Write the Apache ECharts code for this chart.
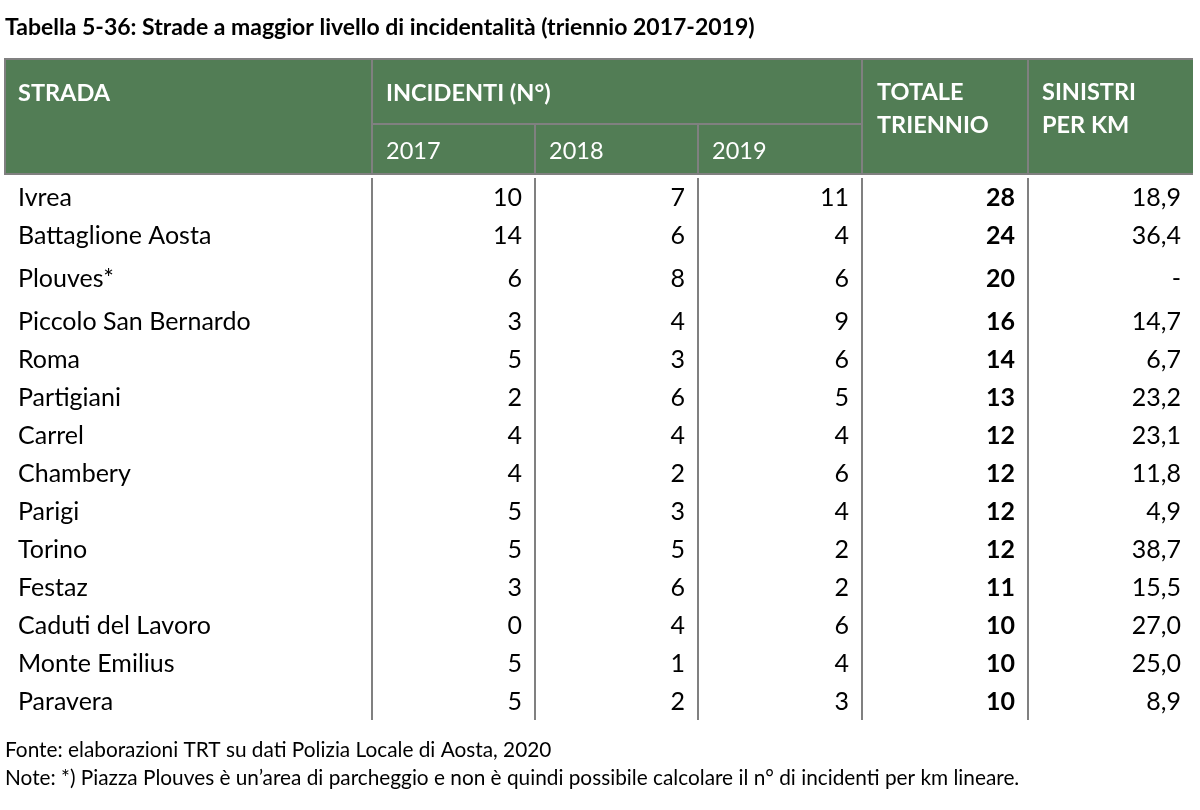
<!DOCTYPE html>
<html><head><meta charset="utf-8">
<script src="https://cdn.jsdelivr.net/npm/echarts@6/dist/echarts.min.js"></script>
<style>html,body{margin:0;padding:0;background:#fff}#c{width:1200px;height:810px}</style>
</head><body><div id="c"></div><script>
// ---- data ----
const titleText = 'Tabella 5-36: Strade a maggior livello di incidentalità (triennio 2017-2019)';
const strade = ['Ivrea','Battaglione Aosta','Plouves*','Piccolo San Bernardo','Roma','Partigiani','Carrel','Chambery','Parigi','Torino','Festaz','Caduti del Lavoro','Monte Emilius','Paravera'];
const inc2017 = [10,14,6,3,5,2,4,4,5,5,3,0,5,5];
const inc2018 = [7,6,8,4,3,6,4,2,3,5,6,4,1,2];
const inc2019 = [11,4,6,9,6,5,4,6,4,2,2,6,4,3];
const totale = [28,24,20,16,14,13,12,12,12,12,11,10,10,10];
const sinistriKm = [18.9,36.4,null,14.7,6.7,23.2,23.1,11.8,4.9,38.7,15.5,27.0,25.0,8.9];
const colStrada = 'STRADA';
const colIncidenti = 'INCIDENTI (N°)';
const anni = ['2017','2018','2019'];
const colTotale = 'TOTALE\nTRIENNIO';
const colSinistri = 'SINISTRI\nPER KM';
const fonteText = 'Fonte: elaborazioni TRT su dati Polizia Locale di Aosta, 2020';
const noteText = 'Note: *) Piazza Plouves è un\u2019area di parcheggio e non è quindi possibile calcolare il n° di incidenti per km lineare.';

// ---- layout ----
const FONT = 'Lato';
const GREEN = '#527d55';
const GREY = '#808080';
const L = 5, R = 1193;
const edges = [0, 367, 530, 693, 857, 1023, 1188]; // column edges in axis units (grid x from L)
const tallRow = 'Plouves*';                          // this row is drawn taller, as in the original
const rowUnits = strade.map(s => s === tallRow ? 48 / 38 : 1);
const rowStart = [];
rowUnits.reduce((acc, u, i) => { rowStart[i] = acc; return acc + u; }, 0);
const totalUnits = rowUnits.reduce((a, b) => a + b, 0);
const fmtKm = v => v == null ? '-' : v.toFixed(1).replace('.', ',');

const chart = echarts.init(document.getElementById('c'), null, {renderer: 'canvas'});

const HF = 23.5, DF = 25, NF = 20.8;
function txt(text, x, y, opts) {
  return {
    type: 'text', silent: true,
    style: Object.assign({
      text: text, x: x, y: y,
      fill: '#fff', font: 'bold ' + HF + 'px ' + FONT,
      align: 'left', textAlign: 'left',
      verticalAlign: 'middle', textVerticalAlign: 'middle'
    }, opts || {})
  };
}
function rect(x, y, w, h, fill) {
  return {type: 'rect', shape: {x: x, y: y, width: w, height: h}, style: {fill: fill}, silent: true};
}

const xs = edges.map(e => L + e);
const headerTop = 60, subY = 124, headerBot = 174;
const graphics = [
  rect(L, headerTop, R - L, headerBot - headerTop, GREEN),
  rect(L - 1, headerTop - 2, R - L + 1, 2, GREY),
  rect(L - 1, headerTop, 2, headerBot - headerTop, GREY),
  rect(L - 1, headerBot - 1, R - L + 1, 2, GREY),
  rect(xs[1] - 1, headerTop, 2, headerBot - headerTop, GREY),
  rect(xs[4] - 1, headerTop, 2, headerBot - headerTop, GREY),
  rect(xs[5] - 1, headerTop, 2, headerBot - headerTop, GREY),
  rect(xs[1], subY - 1, xs[4] - xs[1], 2, GREY),
  rect(xs[2] - 1, subY, 2, headerBot - subY, GREY),
  rect(xs[3] - 1, subY, 2, headerBot - subY, GREY),
  txt(colStrada, xs[0] + 13, 93),
  txt(colIncidenti, xs[1] + 14, 93),
  txt(anni[0], xs[1] + 14, 151, {font: HF + 'px ' + FONT}),
  txt(anni[1], xs[2] + 14, 151, {font: HF + 'px ' + FONT}),
  txt(anni[2], xs[3] + 14, 151, {font: HF + 'px ' + FONT}),
  txt(colTotale, xs[4] + 15, 109, {lineHeight: 33}),
  txt(colSinistri, xs[5] + 14, 109, {lineHeight: 33}),
  txt(fonteText, L, 750, {fill: '#000', font: NF + 'px ' + FONT}),
  txt(noteText, L, 778, {fill: '#000', font: NF + 'px ' + FONT})
];

const rowsData = strade.map((s, i) => [0, rowStart[i], rowStart[i] + rowUnits[i], i]);

function renderRow(params, api) {
  const i = api.value(3);
  const y0 = api.coord([0, api.value(1)])[1];
  const y1 = api.coord([0, api.value(2)])[1];
  const top = Math.min(y0, y1), h = Math.abs(y1 - y0);
  const y = top + h / 2 + 0.5;
  const X = k => api.coord([edges[k], api.value(1)])[0];
  const children = [];
  [1, 2, 3, 4, 5].forEach(k => {
    children.push({type: 'rect', shape: {x: X(k) - 1, y: top, width: 2, height: h}, style: {fill: GREY}});
  });
  const base = {fill: '#000', font: DF + 'px ' + FONT, verticalAlign: 'middle', textVerticalAlign: 'middle'};
  const t = (text, x, align, bold) => ({type: 'text', style: Object.assign({}, base, {text: String(text), x: x, y: y, align: align, textAlign: align}, bold ? {font: 'bold ' + DF + 'px ' + FONT} : {})});
  children.push(t(strade[i], X(0) + 13, 'left'));
  children.push(t(inc2017[i], X(2) - 13, 'right'));
  children.push(t(inc2018[i], X(3) - 13, 'right'));
  children.push(t(inc2019[i], X(4) - 13, 'right'));
  children.push(t(totale[i], X(5) - 13, 'right', true));
  children.push(t(fmtKm(sinistriKm[i]), X(6) - 12, 'right'));
  return {type: 'group', children: children};
}

chart.setOption({
  animation: false,
  title: {text: titleText, left: L, top: 16, padding: 0,
    textStyle: {fontFamily: FONT, fontWeight: 'bold', fontSize: 23, color: '#000'}},
  grid: {left: L, right: 1200 - R, top: 178, bottom: 90, containLabel: false},
  xAxis: {type: 'value', min: 0, max: 1188, show: false},
  yAxis: {type: 'value', min: 0, max: totalUnits, inverse: true, show: false},
  graphic: graphics,
  series: [{type: 'custom', renderItem: renderRow, data: rowsData, encode: {x: 0, y: [1, 2]}, clip: false, silent: true}]
});
</script></body></html>
